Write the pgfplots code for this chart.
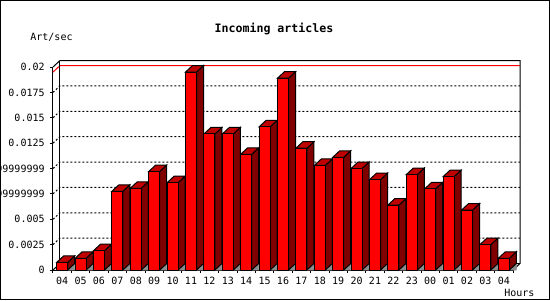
\documentclass[border=0pt]{standalone}
\usepackage{fontspec}
\usepackage{pgfplots}
\usepackage{pgfplotstable}
\pgfplotsset{compat=1.18}
\newfontfamily\mono{DejaVu Sans Mono}
\newcommand\lab{\mono\fontsize{5}{6}\selectfont}
\newcommand\ttl{\mono\bfseries\fontsize{5.8}{7}\selectfont}
\definecolor{barfront}{RGB}{255,0,0}
\definecolor{bartop}{RGB}{192,0,0}
\definecolor{barside}{RGB}{128,0,0}
\definecolor{shadow}{RGB}{140,140,140}

\pgfplotstableread{
x y
0 0.00075
1 0.00115
2 0.0019
3 0.00775
4 0.00805
5 0.0097
6 0.0086
7 0.0195
8 0.0134
9 0.0134
10 0.0114
11 0.0141
12 0.0189
13 0.0120
14 0.0103
15 0.0111
16 0.0100
17 0.0089
18 0.0064
19 0.0094
20 0.0080
21 0.0092
22 0.0059
23 0.0025
24 0.00115
}\data

\def\hh{0}
\pgfdeclareplotmark{prism}{%
  \fill[shadow] (2.75pt,-\hh pt) -- (6.25pt,3.25pt-\hh pt) -- (6.25pt,-\hh pt) -- cycle;
  \filldraw[fill=barside,draw=black,line width=0.5pt,line join=miter] (2.75pt,0pt) -- (6.25pt,3.25pt) -- (6.25pt,3.25pt-\hh pt) -- (2.75pt,-\hh pt) -- cycle;
  \filldraw[fill=bartop,draw=black,line width=0.5pt,line join=miter] (-2.75pt,0pt) -- (2.75pt,0pt) -- (6.25pt,3.25pt) -- (0.75pt,3.25pt) -- cycle;
  \filldraw[fill=barfront,draw=black,line width=0.5pt] (-2.75pt,0pt) rectangle (2.75pt,-\hh pt);
}

\begin{document}
\begin{tikzpicture}
\begin{axis}[
  scale only axis, width=230pt, height=101.5pt,
  xmin=-0.5, xmax=24.5, ymin=0, ymax=0.02,
  clip=false,
  axis x line*=bottom, axis y line*=left,
  axis line style={line width=0.5pt, black},
  tick style={line width=0.5pt, black},
  tick align=outside, major tick length=1.5pt,
  scaled y ticks=false,
  ytick={0,0.0025,0.005,0.0075,0.01,0.0125,0.015,0.0175,0.02},
  yticklabels={0,0.0025,0.005,0.00749999999999999,0.00999999999999999,0.0125,0.015,0.0175,0.02},
  yticklabel style={font=\lab, anchor=east, inner sep=0pt, xshift=-2.5pt},
  xtick={-0.5,0.5,...,24.5},
  xticklabels={},
  extra x ticks={0,1,...,24},
  extra x tick labels={04,05,06,07,08,09,10,11,12,13,14,15,16,17,18,19,20,21,22,23,00,01,02,03,04},
  extra x tick style={major tick length=0pt},
  xticklabel style={font=\lab, anchor=north, inner sep=0pt, yshift=-3.2pt},
]
\coordinate (O) at (rel axis cs:0,0);
\pgfplotsinvokeforeach{0.0025,0.005,0.0075,0.01,0.0125,0.015,0.0175}{
  \draw[line width=0.5pt, dash pattern=on 1pt off 1pt] (axis cs:-0.5,#1) -- ([shift={(3.5pt,3.25pt)}]axis cs:-0.5,#1) -- ([shift={(3.5pt,3.25pt)}]axis cs:24.5,#1);
}
\draw[line width=0.5pt, red] (axis cs:-0.5,0.0195) -- ([shift={(3.5pt,3.25pt)}]axis cs:-0.5,0.0195) -- ([shift={(3.5pt,3.25pt)}]axis cs:24.5,0.0195);
\draw[line width=0.5pt] (axis cs:-0.5,0.02) -- ([shift={(3.5pt,3.25pt)}]axis cs:-0.5,0.02) -- ([shift={(3.5pt,3.25pt)}]axis cs:24.5,0.02) -- ([shift={(3.5pt,3.25pt)}]axis cs:24.5,0) -- (axis cs:24.5,0);
\draw[line width=0.5pt] (axis cs:-0.5,0) -- ([shift={(3.5pt,3.25pt)}]axis cs:-0.5,0) -- ([shift={(3.5pt,3.25pt)}]axis cs:24.5,0);
\draw[line width=0.5pt] ([shift={(3.5pt,3.25pt)}]axis cs:-0.5,0) -- ([shift={(3.5pt,3.25pt)}]axis cs:-0.5,0.02);
\addplot[scatter, only marks, mark=prism,
  point meta=y, point meta min=0, point meta max=0.02,
  scatter/@pre marker code/.code={\pgfmathsetmacro\hh{\pgfplotspointmetatransformed*0.1015}\begin{scope}},
  scatter/@post marker code/.code={\end{scope}}
] table[x=x,y=y]{\data};
\end{axis}
\node[font=\ttl, anchor=center] at ([shift={(110.5pt,120.5pt)}]O) {Incoming articles};
\node[font=\lab, anchor=west, inner sep=0pt] at ([shift={(-11.5pt,116.5pt)}]O) {Art/sec};
\node[font=\lab, anchor=west, inner sep=0pt] at ([shift={(225.5pt,-11.25pt)}]O) {Hours};
\draw[line width=0.5pt] ([shift={(-26.25pt,-14.75pt)}]O) rectangle ([shift={(248.25pt,134.75pt)}]O);
\pgfresetboundingbox
\path[use as bounding box] ([shift={(-26.5pt,-15pt)}]O) rectangle ([shift={(248.5pt,135pt)}]O);
\end{tikzpicture}
\end{document}
